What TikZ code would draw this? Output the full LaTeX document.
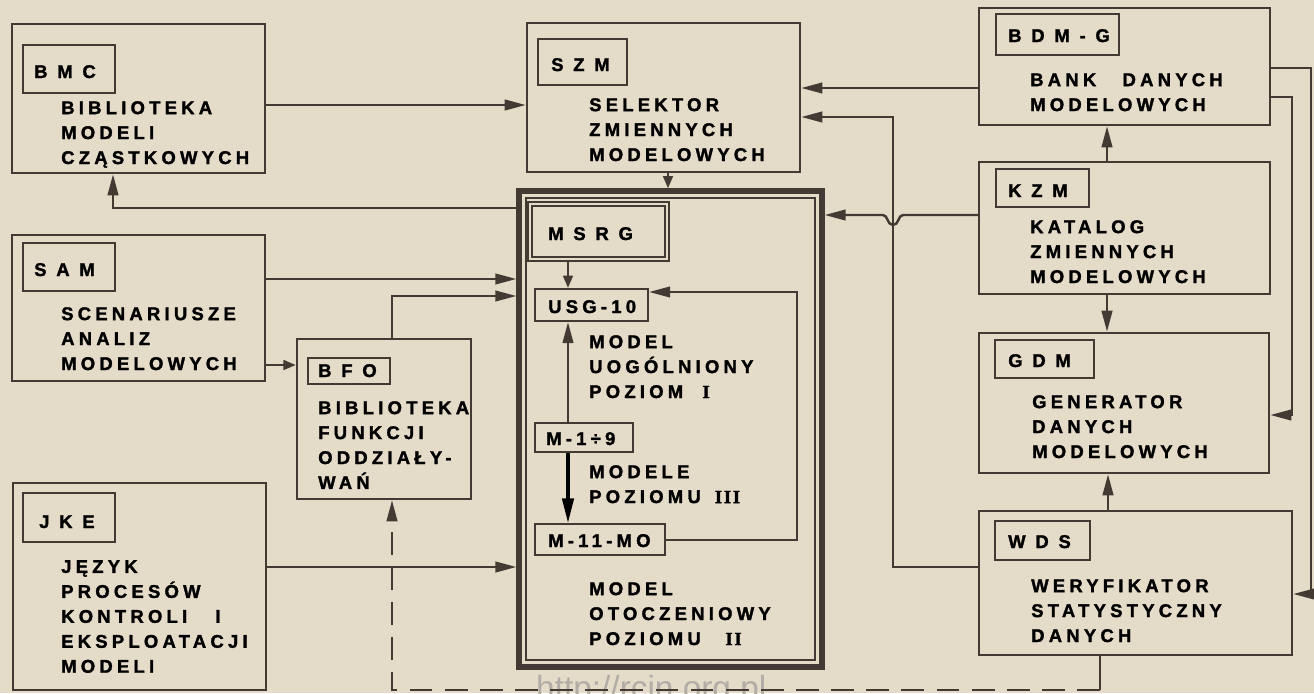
\documentclass[tikz,border=0pt]{standalone}
\usepackage{fontspec}
\usetikzlibrary{arrows.meta,fit}
\newfontfamily\descfont{Liberation Sans Bold}[LetterSpace=23,FakeBold=1.6]
\newfontfamily\tagfont{Liberation Sans Bold}[LetterSpace=53,FakeBold=1.6]
\newfontfamily\numfont{Liberation Serif Bold}[LetterSpace=10,FakeBold=2]
\newfontfamily\markfont{Liberation Sans}
\definecolor{paper}{RGB}{228,219,201}
\definecolor{ink}{RGB}{68,58,52}
\definecolor{wmark}{RGB}{178,172,166}

\begin{document}
\begin{tikzpicture}[x=0.02cm, y=-0.02cm, line width=1.4pt, color=ink,
  blk/.style={draw, inner sep=0pt},
  tagbox/.style={draw, inner sep=0pt, line width=1.2pt},
  tag/.style={anchor=base west, inner sep=0pt, text=black,
    font=\tagfont\fontsize{10.5}{12}\selectfont},
  smalltag/.style={tag, font=\descfont\fontsize{10.5}{12}\selectfont},
  desc/.style={anchor=north west, inner sep=0pt, align=left, text=black,
    font=\descfont\fontsize{10.5}{14.2}\selectfont},
  arr/.style={-{Triangle[length=12pt,width=6pt]}},
  arrs/.style={-{Triangle[length=7pt,width=5.5pt]}},
  arrk/.style={black, line width=1.8pt, -{Triangle[length=14pt,width=6.5pt]}}]
% tlo
\fill[paper] (0,0) rectangle (1314,693);
\useasboundingbox (0,0) rectangle (1314,693);
\node[text=wmark, anchor=base west, inner sep=0pt, font=\markfont\fontsize{19}{19}\selectfont] (www) at (535,699) {http://rcin.org.pl};

% BMC
\node[blk, fit={(12,24)(265,173)}] (bmc) {};
\node[tagbox, fit={(23,45)(115,93)}] (bmctag) {};
\node[tag] (bmcname) at (33,78) {BMC};
\node[desc] (bmctext) at (60,100) {BIBLIOTEKA\\MODELI\\CZĄSTKOWYCH};

% SZM
\node[blk, fit={(527,23)(800,172)}] (szm) {};
\node[tagbox, fit={(538,39)(627,85)}] (szmtag) {};
\node[tag] (szmname) at (550,71) {SZM};
\node[desc] (szmtext) at (588,97) {SELEKTOR\\ZMIENNYCH\\MODELOWYCH};

% BDM-G
\node[blk, fit={(979,8)(1270,125)}] (bdmg) {};
\node[tagbox, fit={(996,14)(1119,55)}] (bdmgtag) {};
\node[tag] (bdmgname) at (1007,42) {BDM-G};
\node[desc] (bdmgtext) at (1029,72) {BANK\hspace{15pt}DANYCH\\MODELOWYCH};

% KZM
\node[blk, fit={(979,162)(1270,294)}] (kzm) {};
\node[tagbox, fit={(996,169)(1089,207)}] (kzmtag) {};
\node[tag] (kzmname) at (1007,197) {KZM};
\node[desc] (kzmtext) at (1029,219) {KATALOG\\ZMIENNYCH\\MODELOWYCH};

% GDM
\node[blk, fit={(979,333)(1269,473)}] (gdm) {};
\node[tagbox, fit={(995,340)(1094,378)}] (gdmtag) {};
\node[tag] (gdmname) at (1007,367) {GDM};
\node[desc] (gdmtext) at (1031,394) {GENERATOR\\DANYCH\\MODELOWYCH};

% WDS
\node[blk, fit={(979,511)(1292,655)}] (wds) {};
\node[tagbox, fit={(995,521)(1090,560)}] (wdstag) {};
\node[tag] (wdsname) at (1007,548) {WDS};
\node[desc] (wdstext) at (1030,578) {WERYFIKATOR\\STATYSTYCZNY\\DANYCH};

% SAM
\node[blk, fit={(12,235)(265,381)}] (sam) {};
\node[tagbox, fit={(23,243)(115,291)}] (samtag) {};
\node[tag] (samname) at (33,276) {SAM};
\node[desc] (samtext) at (60,306) {SCENARIUSZE\\ANALIZ\\MODELOWYCH};

% BFO
\node[blk, fit={(297,339)(471,499)}] (bfo) {};
\node[tagbox, fit={(308,358)(390,384)}] (bfotag) {};
\node[tag] (bfoname) at (317,377) {BFO};
\node[desc] (bfotext) at (317,400) {BIBLIOTEKA\\FUNKCJI\\ODDZIAŁY-\\WAŃ};

% JKE
\node[blk, fit={(13,483)(266,690)}] (jke) {};
\node[tagbox, fit={(23,493)(115,542)}] (jketag) {};
\node[tag] (jkename) at (38,528) {JKE};
\node[desc] (jketext) at (60,559) {JĘZYK\\PROCESÓW\\KONTROLI\hspace{16pt}I\\EKSPLOATACJI\\MODELI};

% MSRG - ramka podwojna
\node[draw, inner sep=0pt, line width=3pt, fit={(519,191)(822,667)}] (msrg) {};
\node[draw, inner sep=0pt, line width=0.9pt, fit={(526,198)(815,660)}] (msrgin) {};
\node[draw, inner sep=0pt, line width=0.9pt, double=paper, double distance=1.2pt, fit={(530,204)(667,259)}] (msrgtag) {};
\node[tag] (msrgname) at (547,240) {MSRG};

% poziomy modeli
\node[tagbox, fit={(535,289)(648,321)}] (usg) {};
\node[smalltag] (usgname) at (547,313) {USG-10};
\node[desc] (usgtext) at (588,334) {MODEL\\UOGÓLNIONY\\POZIOM\hspace{11pt}{\numfont I}};
\node[tagbox, fit={(535,423)(633,452)}] (m19) {};
\node[smalltag] (m19name) at (545,445) {M-1÷9};
\node[desc] (m19text) at (588,464) {MODELE\\POZIOMU\hspace{8pt}{\numfont III}};
\node[tagbox, fit={(535,524)(665,555)}] (m11) {};
\node[smalltag] (m11name) at (547,547) {M-11-MO};
\node[desc] (m11text) at (588,581) {MODEL\\OTOCZENIOWY\\POZIOMU\hspace{14pt}{\numfont II}};

% polaczenia lewej strony
\draw[arr] (bmc.east |- 0,105) -- (szm.west |- 0,105);
\draw[arr] (msrg.west |- 0,208) -| (bmc.south -| 113,0);
\draw[arr] (sam.east |- 0,279) -- (msrg.west |- 0,279);
\draw[arrs] (sam.east |- 0,365) -- (bfo.west |- 0,365);
\draw[arr] (bfo.north -| 392,0) |- (msrg.west |- 0,296);
\draw[arr] (jke.east |- 0,567) -- (msrg.west |- 0,567);
\draw[arrs] (szm.south -| 668,0) -- (msrg.north -| 668,0);

% polaczenia prawej strony
\draw[arr] (bdmg.west |- 0,88) -- (szm.east |- 0,88);
\draw[arr] (wds.west |- 0,567) -| (893,117) -- (szm.east |- 0,117);
\draw[arr] (kzm.west |- 0,215) -- (903,215)
  .. controls (898,215) and (899,225) .. (893,225)
  .. controls (887,225) and (888,215) .. (883,215) -- (msrg.east |- 0,215);
\draw[arr] (bdmg.east |- 0,68) -- (1311,68) |- (wds.east |- 0,594);
\draw[arr] (bdmg.east |- 0,97) -- (1292,97) |- (gdm.east |- 0,415);
\draw[arr] (kzm.north -| 1107,0) -- (bdmg.south -| 1107,0);
\draw[arr] (kzm.south -| 1107,0) -- (gdm.north -| 1107,0);
\draw[arr] (wds.north -| 1108,0) -- (gdm.south -| 1108,0);

% WDS -> BFO (przerywana)
\coordinate (wdsfoot) at (1100,690);
\coordinate (bfofoot) at (392,690);
\draw (wds.south -| wdsfoot) -- (wdsfoot);
\draw[arr, dash pattern=on 13pt off 7pt] (wdsfoot) -- (bfofoot) -- (bfo.south -| bfofoot);

% wewnatrz MSRG
\draw[arrs] (msrgtag.south -| 568,0) -- (usg.north -| 568,0);
\draw[arr] (m19.north -| 568,0) -- (usg.south -| 568,0);
\draw[arrk] (m19.south -| 568,0) -- (m11.north -| 568,0);
\draw[arr] (m11.east |- 0,540) -| (797,292) -- (usg.east |- 0,292);
\end{tikzpicture}
\end{document}
